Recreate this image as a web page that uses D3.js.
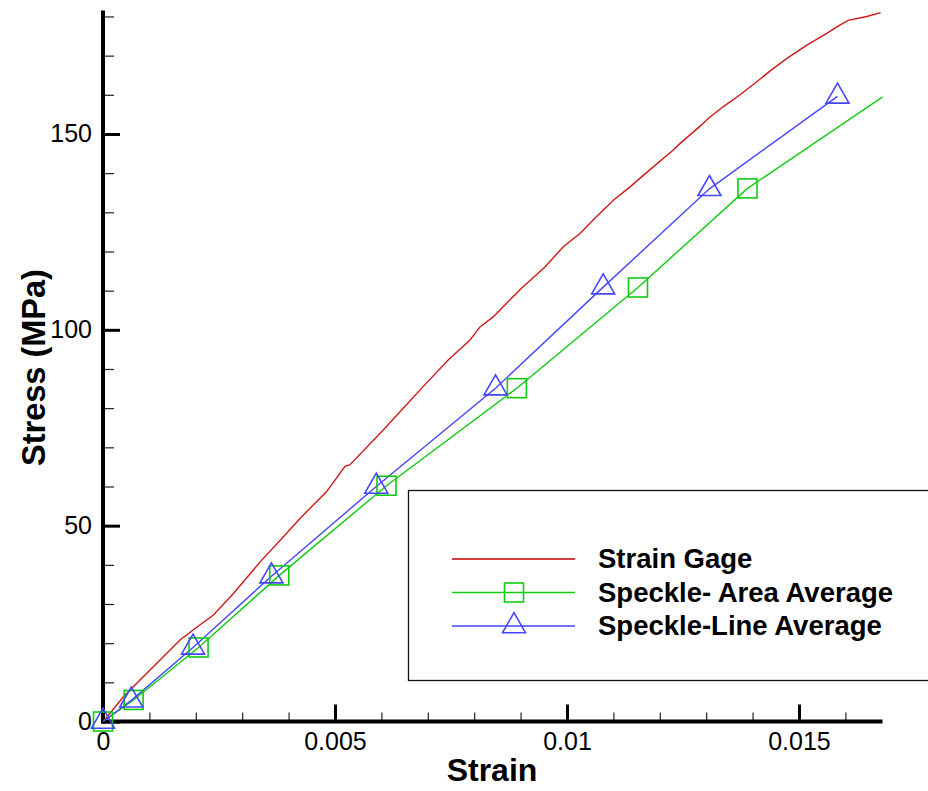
<!DOCTYPE html>
<html>
<head>
<meta charset="utf-8">
<script src="https://cdn.jsdelivr.net/npm/d3@7"></script>
<style>
  html, body { margin: 0; padding: 0; background: #fff; }
  svg { display: block; }
</style>
</head>
<body>
<svg id="chart" width="928" height="791"></svg>
<script>
// ---------------- DATA ----------------
const gageStrain = [0, 0.00015, 0.00044, 0.00083, 0.00123, 0.00166, 0.00197, 0.00238, 0.00281, 0.00342,
  0.00382, 0.00425, 0.00482, 0.00522, 0.00532, 0.00604, 0.00647, 0.0069, 0.00744, 0.00791,
  0.00813, 0.00841, 0.0087, 0.00902, 0.00953, 0.00992, 0.01028, 0.0106, 0.011, 0.01136,
  0.01165, 0.01229, 0.01244, 0.01287, 0.01305, 0.01337, 0.01373, 0.01398, 0.01438, 0.01474,
  0.01517, 0.0156, 0.01588, 0.01606, 0.01646, 0.01676];
const gageStress = [0, 2.1, 6.3, 11.0, 15.7, 20.8, 23.6, 27.2, 32.7, 41.2,
  46.3, 51.9, 58.7, 65.2, 65.5, 74.4, 80.0, 85.5, 92.3, 97.4,
  100.8, 103.3, 106.8, 110.6, 116.1, 121.2, 124.6, 128.5, 133.1, 136.5,
  139.5, 145.9, 147.6, 152.0, 154.0, 157.0, 160.0, 162.3, 166.1, 169.3,
  172.7, 175.7, 177.8, 179.0, 180.0, 181.0];

const areaStrain = [0, 0.00066, 0.00206, 0.0038, 0.00611, 0.00892, 0.01153, 0.01389, 0.01682];
const areaStress = [0, 5.5, 18.9, 37.3, 60.2, 85.1, 110.8, 136.1, 159.6];

const lineStrain = [0, 0.00061, 0.00194, 0.00363, 0.00589, 0.00846, 0.01078, 0.01307, 0.01583];
const lineStress = [0, 5.4, 18.9, 37.1, 60.0, 85.1, 110.9, 136.0, 159.6];

const xMajorTicks = [0, 0.005, 0.01, 0.015];
const xTickLabels = ["0", "0.005", "0.01", "0.015"];
const yMajorTicks = [0, 50, 100, 150];
const yTickLabels = ["0", "50", "100", "150"];
const xMinorTicks = d3.range(1, 17).map(i => i * 0.001).filter(v => !xMajorTicks.some(m => Math.abs(m - v) < 1e-9));
const yMinorTicks = d3.range(1, 19).map(i => i * 10).filter(v => v % 50 !== 0);

const seriesNames = ["Strain Gage", "Speckle- Area Average", "Speckle-Line Average"];
const xTitle = "Strain";
const yTitle = "Stress (MPa)";

// ---------------- LAYOUT ----------------
const x = d3.scaleLinear().domain([0, 0.0168]).range([103, 882.5]);
const y = d3.scaleLinear().domain([0, 181.5]).range([721.5, 10.6]);

const colors = { gage: "#d01818", area: "#10cc10", line: "#4646ff" };
const svg = d3.select("#chart");

svg.append("defs").append("clipPath").attr("id", "plotclip")
  .append("rect")
  .attr("x", x.range()[0]).attr("y", y.range()[1])
  .attr("width", x.range()[1] - x.range()[0])
  .attr("height", y.range()[0] - y.range()[1]);

const fontFamily = "'Liberation Sans', Arial, Helvetica, sans-serif";

// ---------------- AXES ----------------
const xMinor = svg.append("g").attr("transform", `translate(0,${y(0)})`)
  .call(d3.axisBottom(x).tickValues(xMinorTicks).tickSizeInner(-9).tickSizeOuter(0).tickFormat(""));
xMinor.select(".domain").remove();
xMinor.selectAll("line").attr("stroke", "#222").attr("stroke-width", 1.2);

const yMinor = svg.append("g").attr("transform", `translate(${x(0)},0)`)
  .call(d3.axisLeft(y).tickValues(yMinorTicks).tickSizeInner(-11).tickSizeOuter(0).tickFormat(""));
yMinor.select(".domain").remove();
yMinor.selectAll("line").attr("stroke", "#222").attr("stroke-width", 1.2);

const xAxis = svg.append("g").attr("transform", `translate(0,${y(0)})`)
  .call(d3.axisBottom(x).tickValues(xMajorTicks).tickSizeInner(-17).tickSizeOuter(0).tickPadding(11)
    .tickFormat((d, i) => xTickLabels[i]));
xAxis.select(".domain").remove();
xAxis.selectAll("line").attr("stroke", "#000").attr("stroke-width", 3);
xAxis.selectAll("text").attr("fill", "#000").style("font-family", fontFamily).style("font-size", "25px");

const yAxis = svg.append("g").attr("transform", `translate(${x(0)},0)`)
  .call(d3.axisLeft(y).tickValues(yMajorTicks).tickSizeInner(-17).tickSizeOuter(0).tickPadding(11)
    .tickFormat((d, i) => yTickLabels[i]));
yAxis.select(".domain").remove();
yAxis.selectAll("line").attr("stroke", "#000").attr("stroke-width", 3);
yAxis.selectAll("text").attr("fill", "#000").style("font-family", fontFamily).style("font-size", "25px");

svg.append("line")
  .attr("x1", x(0) - 2).attr("x2", x.range()[1])
  .attr("y1", y(0)).attr("y2", y(0))
  .attr("stroke", "#000").attr("stroke-width", 4);
svg.append("line")
  .attr("x1", x(0)).attr("x2", x(0))
  .attr("y1", y(0) + 2).attr("y2", y.range()[1])
  .attr("stroke", "#000").attr("stroke-width", 4);

svg.append("text")
  .attr("x", 492).attr("y", 781)
  .attr("text-anchor", "middle")
  .style("font-family", fontFamily).style("font-weight", "bold").style("font-size", "32px")
  .text(xTitle);
svg.append("text")
  .attr("transform", "translate(45,367.5) rotate(-90)")
  .attr("text-anchor", "middle")
  .style("font-family", fontFamily).style("font-weight", "bold").style("font-size", "32.5px")
  .text(yTitle);

// ---------------- SERIES ----------------
const plot = svg.append("g").attr("clip-path", "url(#plotclip)");
const lineGen = d3.line().x(d => x(d[0])).y(d => y(d[1]));

const gagePts = gageStrain.map((v, i) => [v, gageStress[i]]);
const areaPts = areaStrain.map((v, i) => [v, areaStress[i]]);
const linePts = lineStrain.map((v, i) => [v, lineStress[i]]);

plot.append("path").datum(gagePts).attr("d", lineGen)
  .attr("fill", "none").attr("stroke", colors.gage).attr("stroke-width", 1.4);
plot.append("path").datum(areaPts).attr("d", lineGen)
  .attr("fill", "none").attr("stroke", colors.area).attr("stroke-width", 1.4);
plot.append("path").datum(linePts).attr("d", lineGen)
  .attr("fill", "none").attr("stroke", colors.line).attr("stroke-width", 1.4);

const SQ = 19;
const triPath = "M0,-13.3 L11.5,6.7 L-11.5,6.7 Z";
const inDomain = d => d[0] <= x.domain()[1];
const markers = svg.append("g");

markers.selectAll(".sq").data(areaPts.filter(inDomain)).enter().append("rect")
  .attr("x", d => x(d[0]) - SQ / 2).attr("y", d => y(d[1]) - SQ / 2)
  .attr("width", SQ).attr("height", SQ)
  .attr("fill", "none").attr("stroke", colors.area).attr("stroke-width", 1.6);
markers.selectAll(".tri").data(linePts.filter(inDomain)).enter().append("path")
  .attr("transform", d => `translate(${x(d[0])},${y(d[1])})`)
  .attr("d", triPath)
  .attr("fill", "none").attr("stroke", colors.line).attr("stroke-width", 1.6);

// ---------------- LEGEND ----------------
const legend = svg.append("g");
legend.append("rect")
  .attr("x", 408.5).attr("y", 490.5).attr("width", 540).attr("height", 190)
  .attr("fill", "#fff").attr("stroke", "#111").attr("stroke-width", 1.3);

const legendRows = [
  { name: seriesNames[0], color: colors.gage, marker: null, stroke: "#c00000" },
  { name: seriesNames[1], color: colors.area, marker: "square" },
  { name: seriesNames[2], color: colors.line, marker: "triangle" }
];
const ly0 = 559, ldy = 33.5;
legendRows.forEach((r, i) => {
  const cy = ly0 + i * ldy;
  legend.append("line").attr("x1", 452).attr("x2", 575).attr("y1", cy).attr("y2", cy)
    .attr("stroke", r.stroke || r.color).attr("stroke-width", 1.4);
  if (r.marker === "square") {
    legend.append("rect").attr("x", 514 - SQ / 2).attr("y", cy - SQ / 2).attr("width", SQ).attr("height", SQ)
      .attr("fill", "none").attr("stroke", r.color).attr("stroke-width", 1.6);
  } else if (r.marker === "triangle") {
    legend.append("path").attr("transform", `translate(514,${cy})`).attr("d", triPath)
      .attr("fill", "none").attr("stroke", r.color).attr("stroke-width", 1.6);
  }
  legend.append("text").attr("x", 598).attr("y", cy + 9)
    .style("font-family", fontFamily).style("font-weight", "bold").style("font-size", "27.5px")
    .attr("fill", "#000")
    .text(r.name);
});
</script>
</body>
</html>
